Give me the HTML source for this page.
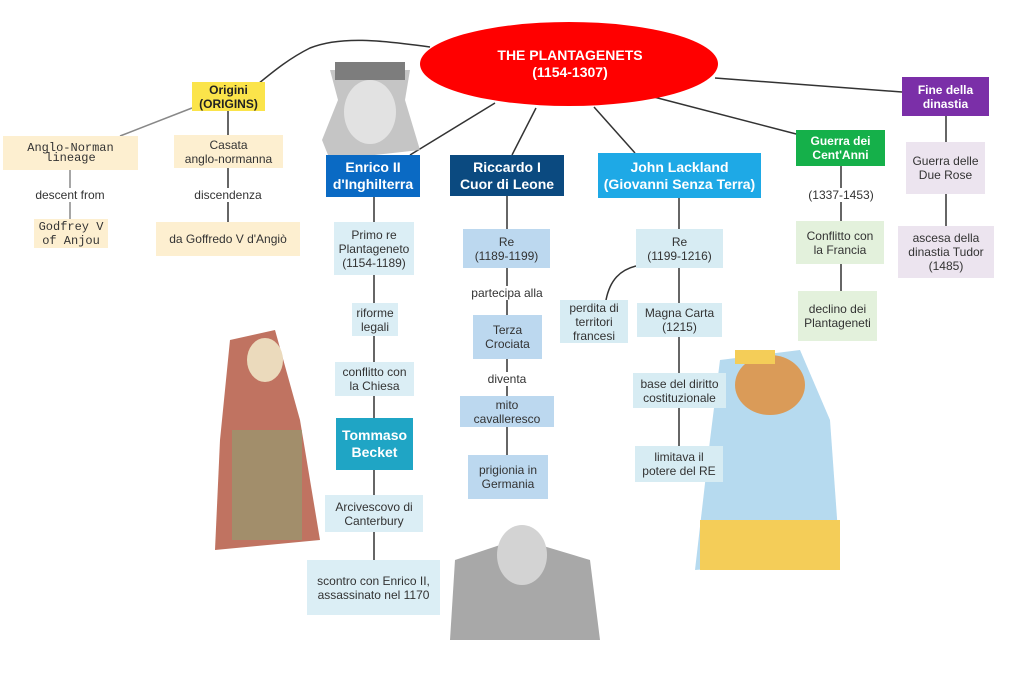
<!DOCTYPE html>
<html><head><meta charset="utf-8"><style>
body{margin:0;width:1024px;height:686px;background:#fff;position:relative;overflow:hidden;font-family:"Liberation Sans",sans-serif}
.b{position:absolute;display:flex;align-items:center;justify-content:center;text-align:center;font-size:12px;line-height:14px;color:#333;box-sizing:border-box}
.h{color:#fff;font-weight:bold;font-size:14px;line-height:17px}
.l{position:absolute;font-size:12px;color:#333;background:#fff;transform:translateX(-50%);white-space:nowrap}
.m{font-family:"Liberation Mono",monospace}
</style></head><body>
<svg width="1024" height="686" style="position:absolute;left:0;top:0">
<g stroke="#333" stroke-width="1.5" fill="none">
<path d="M430,47 C380,40 340,36 310,48 C290,58 275,70 258,84"/>
<line x1="192" y1="108" x2="120" y2="136" stroke="#888"/>
<line x1="228" y1="111" x2="228" y2="135"/>
<line x1="228" y1="168" x2="228" y2="222"/>
<line x1="70" y1="170" x2="70" y2="219" stroke="#888"/>
<line x1="495" y1="103" x2="410" y2="155"/>
<line x1="536" y1="108" x2="512" y2="155"/>
<line x1="594" y1="107" x2="635" y2="153"/>
<line x1="650" y1="96" x2="800" y2="135"/>
<line x1="715" y1="78" x2="902" y2="92"/>
<line x1="374" y1="197" x2="374" y2="222"/>
<line x1="374" y1="275" x2="374" y2="495"/>
<line x1="374" y1="532" x2="374" y2="560"/>
<line x1="507" y1="196" x2="507" y2="229"/>
<line x1="507" y1="268" x2="507" y2="455"/>
<line x1="679" y1="198" x2="679" y2="229"/>
<line x1="679" y1="268" x2="679" y2="446"/>
<path d="M636,266 C620,270 610,280 606,300"/>
<line x1="841" y1="166" x2="841" y2="291"/>
<line x1="946" y1="116" x2="946" y2="226"/>
</g>
<ellipse cx="569" cy="64" rx="149" ry="42" fill="#ff0000"/>
<!-- image placeholders -->
<g opacity="0.85">
<path d="M330,70 L410,70 L405,100 L420,150 L330,160 L322,140 L338,100Z" fill="#bbb"/>
<rect x="335" y="62" width="70" height="18" fill="#666"/>
<ellipse cx="370" cy="112" rx="26" ry="32" fill="#ddd"/>
<path d="M230,340 L275,330 L300,420 L320,540 L215,550 L220,440Z" fill="#b55a45"/>
<ellipse cx="265" cy="360" rx="18" ry="22" fill="#e8d4b0"/>
<rect x="232" y="430" width="70" height="110" fill="#7b8f5a" opacity="0.6"/>
<path d="M455,560 L500,545 L540,545 L590,560 L600,640 L450,640Z" fill="#999"/>
<ellipse cx="522" cy="555" rx="25" ry="30" fill="#ccc"/>
<path d="M720,360 L800,350 L830,420 L840,560 L695,570 L710,440Z" fill="#a9d4ec"/>
<ellipse cx="770" cy="385" rx="35" ry="30" fill="#d48a3a"/>
<rect x="700" y="520" width="140" height="50" fill="#f2c43a"/>
<rect x="735" y="350" width="40" height="14" fill="#f2c43a"/>
</g>
</svg>
<div class="b h" style="left:450px;top:42px;width:240px;height:44px;font-size:14px">THE PLANTAGENETS<br>(1154-1307)</div>
<div class="b" style="left:192px;top:82px;width:73px;height:29px;background:#fbe44a;font-weight:bold;color:#222">Origini<br>(ORIGINS)</div>
<div class="b m" style="left:3px;top:136px;width:135px;height:34px;background:#fdefd0;line-height:10px">Anglo-Norman<br>lineage</div>
<div class="l" style="left:70px;top:188px">descent from</div>
<div class="b m" style="left:34px;top:219px;width:74px;height:29px;background:#fdefd0">Godfrey V<br>of Anjou</div>
<div class="b" style="left:174px;top:135px;width:109px;height:33px;background:#fdefd0">Casata<br>anglo-normanna</div>
<div class="l" style="left:228px;top:188px">discendenza</div>
<div class="b" style="left:156px;top:222px;width:144px;height:34px;background:#fdefd0">da Goffredo V d'Angiò</div>
<div class="b h" style="left:326px;top:155px;width:94px;height:42px;background:#0a6ac4">Enrico II<br>d'Inghilterra</div>
<div class="b" style="left:334px;top:222px;width:80px;height:53px;background:#dbeef5">Primo re<br>Plantageneto<br>(1154-1189)</div>
<div class="b" style="left:352px;top:303px;width:46px;height:33px;background:#dbeef5">riforme<br>legali</div>
<div class="b" style="left:335px;top:362px;width:79px;height:34px;background:#dbeef5">conflitto con<br>la Chiesa</div>
<div class="b h" style="left:336px;top:418px;width:77px;height:52px;background:#1fa5c5">Tommaso<br>Becket</div>
<div class="b" style="left:325px;top:495px;width:98px;height:37px;background:#dbeef5">Arcivescovo di<br>Canterbury</div>
<div class="b" style="left:307px;top:560px;width:133px;height:55px;background:#dbeef5">scontro con Enrico II,<br>assassinato nel 1170</div>
<div class="b h" style="left:450px;top:155px;width:114px;height:41px;background:#0b4a80">Riccardo I<br>Cuor di Leone</div>
<div class="b" style="left:463px;top:229px;width:87px;height:39px;background:#bcd8ef">Re<br>(1189-1199)</div>
<div class="l" style="left:507px;top:286px">partecipa alla</div>
<div class="b" style="left:473px;top:315px;width:69px;height:44px;background:#bcd8ef">Terza<br>Crociata</div>
<div class="l" style="left:507px;top:372px">diventa</div>
<div class="b" style="left:460px;top:396px;width:94px;height:31px;background:#bcd8ef">mito<br>cavalleresco</div>
<div class="b" style="left:468px;top:455px;width:80px;height:44px;background:#bcd8ef">prigionia in<br>Germania</div>
<div class="b h" style="left:598px;top:153px;width:163px;height:45px;background:#1ea9e6">John Lackland<br>(Giovanni Senza Terra)</div>
<div class="b" style="left:636px;top:229px;width:87px;height:39px;background:#d7ecf3">Re<br>(1199-1216)</div>
<div class="b" style="left:560px;top:300px;width:68px;height:43px;background:#d7ecf3">perdita di<br>territori<br>francesi</div>
<div class="b" style="left:637px;top:303px;width:85px;height:34px;background:#d7ecf3">Magna Carta<br>(1215)</div>
<div class="b" style="left:633px;top:373px;width:93px;height:35px;background:#d7ecf3">base del diritto<br>costituzionale</div>
<div class="b" style="left:635px;top:446px;width:88px;height:36px;background:#d7ecf3">limitava il<br>potere del RE</div>
<div class="b h" style="left:796px;top:130px;width:89px;height:36px;background:#15b04a;font-size:12px;line-height:14px">Guerra dei<br>Cent'Anni</div>
<div class="l" style="left:841px;top:188px">(1337-1453)</div>
<div class="b" style="left:796px;top:221px;width:88px;height:43px;background:#e3f1dc">Conflitto con<br>la Francia</div>
<div class="b" style="left:798px;top:291px;width:79px;height:50px;background:#e3f1dc">declino dei<br>Plantageneti</div>
<div class="b h" style="left:902px;top:77px;width:87px;height:39px;background:#7b2fa8;font-size:12px;line-height:14px">Fine della<br>dinastia</div>
<div class="b" style="left:906px;top:142px;width:79px;height:52px;background:#ece4ef">Guerra delle<br>Due Rose</div>
<div class="b" style="left:898px;top:226px;width:96px;height:52px;background:#ece4ef">ascesa della<br>dinastia Tudor<br>(1485)</div>
</body></html>
